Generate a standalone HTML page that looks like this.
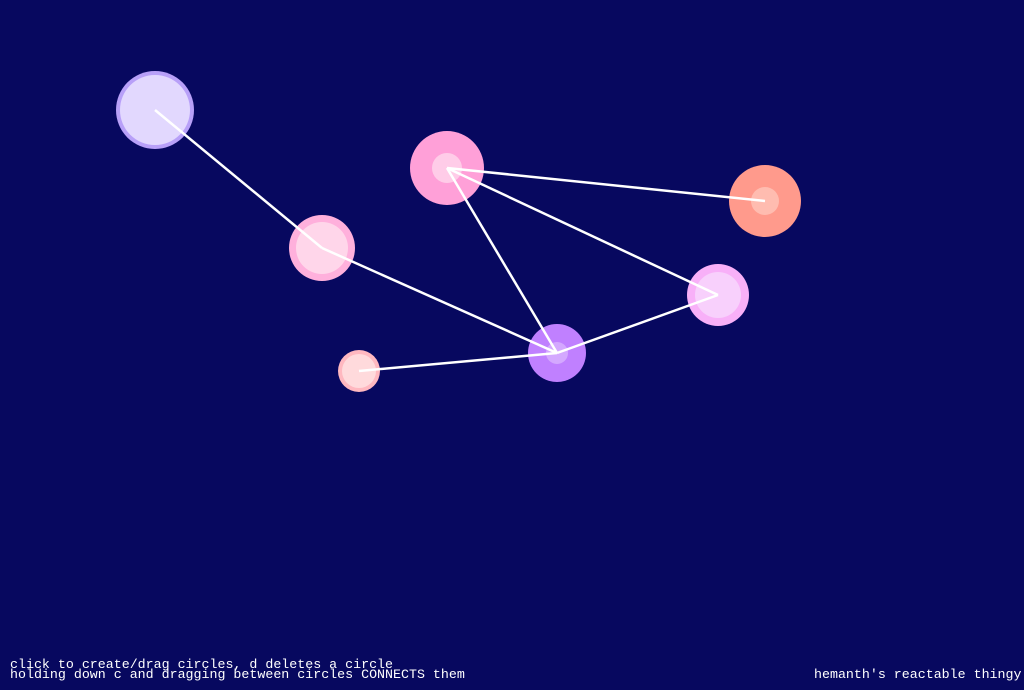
<!DOCTYPE html>
<html><head><meta charset="utf-8"><style>
html,body{margin:0;padding:0;background:#07085f;width:1024px;height:690px;overflow:hidden}
svg{position:absolute;left:0;top:0}
.t{position:absolute;font-family:"Liberation Mono",monospace;font-size:13.3px;color:#fff;line-height:10px;white-space:pre}
</style></head><body>
<svg width="1024" height="690">
<rect width="1024" height="690" fill="#07085f"/>
<g id="circles"></g>
<g id="links"></g>
</svg>
<div class="t" style="left:10px;top:660px">click to create/drag circles, d deletes a circle
holding down c and dragging between circles CONNECTS them</div>
<div class="t" style="left:814px;top:670px">hemanth's reactable thingy</div>
<script>
const xs=[155,322,447,765,718,557,359];
const ys=[110,248,168,201,295,353,371];
const rOut=[39,33,37,36,31,29,21];
const rIn=[35,26,15,14,23,11,17];
const cOut=["#b8a0f8","#ffb0dc","#ffa0d8","#ff9a8c","#f8b0f8","#c080ff","#ffb8c0"];
const cIn=["#e2d8fe","#ffd6ea","#ffcce8","#ffbcb0","#f8d0fc","#d4a8ff","#ffdadc"];
const linkA=[0,1,6,2,2,2,5];
const linkB=[1,5,5,3,4,5,4];
const NS="http://www.w3.org/2000/svg";
const cg=document.getElementById('circles'),lg=document.getElementById('links');
for(let i=0;i<xs.length;i++){
 const g=document.createElementNS(NS,'g');
 
 
 const o=document.createElementNS(NS,'circle');
 o.setAttribute('cx',xs[i]);o.setAttribute('cy',ys[i]);o.setAttribute('r',rOut[i]);o.setAttribute('fill',cOut[i]);
 const n=document.createElementNS(NS,'circle');
 n.setAttribute('cx',xs[i]);n.setAttribute('cy',ys[i]);n.setAttribute('r',rIn[i]);n.setAttribute('fill',cIn[i]);
 g.appendChild(o);g.appendChild(n);cg.appendChild(g);
}
for(let k=0;k<linkA.length;k++){
 const l=document.createElementNS(NS,'line');
 
 
 l.setAttribute('x1',xs[linkA[k]]);l.setAttribute('y1',ys[linkA[k]]);
 l.setAttribute('x2',xs[linkB[k]]);l.setAttribute('y2',ys[linkB[k]]);
 l.setAttribute('stroke','#fff');l.setAttribute('stroke-width','2.5');
 lg.appendChild(l);
}
</script>
</body></html>
